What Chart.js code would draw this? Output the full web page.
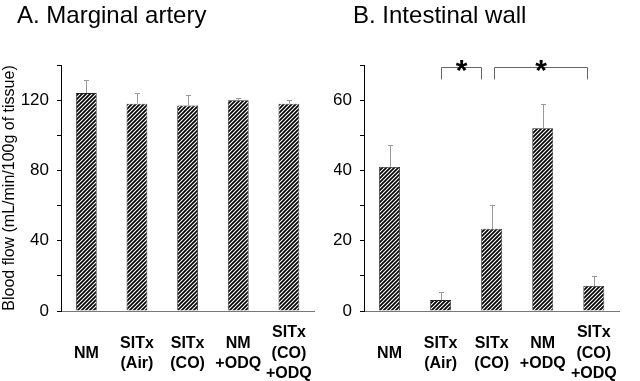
<!DOCTYPE html>
<html lang="en">
<head>
    <meta charset="UTF-8">
    <title>Blood flow</title>
    <script src="https://cdn.jsdelivr.net/npm/chart.js"></script>
    <style>
        body { margin: 0; background: #fff; }
        #wrap { position: relative; width: 640px; height: 381px; overflow: hidden; font-family: "Liberation Sans", Arial, sans-serif; }
        .panel { position: absolute; top: 0; height: 381px; }
        #leftBox { left: 0; width: 334px; }
        #rightBox { left: 334px; width: 306px; }
        .ttl { position: absolute; top: 3px; font-size: 24px; line-height: 24px; color: #000; white-space: nowrap; }
    </style>
</head>
<body>
<div id="wrap">
    <div class="panel" id="leftBox"><canvas id="chartA"></canvas></div>
    <div class="panel" id="rightBox"><canvas id="chartB"></canvas></div>
    <div class="ttl" style="left:17px">A. Marginal artery</div>
    <div class="ttl" style="left:353px">B. Intestinal wall</div>
</div>
<script>
    // 資料
    var groups = [['NM'], ['SITx', '(Air)'], ['SITx', '(CO)'], ['NM', '+ODQ'], ['SITx', '(CO)', '+ODQ']];

    var arteryFlow = [124, 118, 117, 120, 118];
    var arteryErr = [7.5, 6, 6, 1, 2];

    var wallFlow = [41, 3.1, 23.4, 52, 7.1];
    var wallErr = [6.2, 2.3, 6.9, 6.9, 2.9];

    var arteryTicks = [0, 40, 80, 120];
    var wallTicks = [0, 20, 40, 60];

    // significance brackets (category positions)
    var bracketFrom = [1, 2.04];
    var bracketTo = [1.79, 3.87];
    var bracketLevel = 69.5;
    var bracketText = ['*', '*'];

    // hatch pattern
    function makeHatch() {
        var c = document.createElement('canvas');
        c.width = 4; c.height = 4;
        var g = c.getContext('2d');
        g.fillStyle = '#fff';
        g.fillRect(0, 0, 4, 4);
        g.strokeStyle = '#000';
        g.lineWidth = 1.7;
        g.beginPath();
        g.moveTo(-1, 5); g.lineTo(5, -1);
        g.moveTo(-1, 1); g.lineTo(1, -1);
        g.moveTo(3, 5); g.lineTo(5, 3);
        g.stroke();
        return g.createPattern(c, 'repeat');
    }

    var errorBars = {
        id: 'errorBars',
        afterDatasetsDraw: function(chart, args, opts) {
            var ctx = chart.ctx;
            var meta = chart.getDatasetMeta(0);
            var y = chart.scales.y;
            var vals = chart.data.datasets[0].data;
            ctx.save();
            ctx.strokeStyle = '#999';
            ctx.lineWidth = 1;
            for (var i = 0; i < vals.length; i++) {
                var x = Math.round(meta.data[i].x) + 0.5;
                var y0 = y.getPixelForValue(vals[i]);
                var y1 = Math.round(y.getPixelForValue(vals[i] + opts.err[i])) + 0.5;
                ctx.beginPath();
                ctx.moveTo(x, y0);
                ctx.lineTo(x, y1);
                ctx.moveTo(x - 2.5, y1);
                ctx.lineTo(x + 2.5, y1);
                ctx.stroke();
            }
            ctx.restore();
        }
    };

    var brackets = {
        id: 'brackets',
        afterDraw: function(chart, args, opts) {
            if (!opts.show) return;
            var ctx = chart.ctx;
            var xs = chart.scales.x, ys = chart.scales.y;
            ctx.save();
            ctx.strokeStyle = '#666';
            ctx.lineWidth = 1;
            for (var i = 0; i < bracketFrom.length; i++) {
                var a = Math.round(xs.getPixelForValue(bracketFrom[i])) + 0.5;
                var b = Math.round(xs.getPixelForValue(bracketTo[i])) + 0.5;
                var top = Math.round(ys.getPixelForValue(bracketLevel)) + 0.5;
                ctx.beginPath();
                ctx.moveTo(a, top + 12);
                ctx.lineTo(a, top);
                ctx.lineTo(b, top);
                ctx.lineTo(b, top + 12);
                ctx.stroke();
                ctx.fillStyle = '#000';
                ctx.font = 'bold 30px "Liberation Sans", Arial, sans-serif';
                ctx.textAlign = 'center';
                ctx.textBaseline = 'alphabetic';
                ctx.fillText(bracketText[i], (a + b) / 2, top + 12);
            }
            ctx.restore();
        }
    };

    function makeChart(id, data, err, max, step, labelTicks, yTitle, padL, padR, yWidth) {
        var ctx = document.getElementById(id).getContext('2d');
        return new Chart(ctx, {
            type: 'bar',
            data: {
                labels: groups,
                datasets: [{
                    data: data,
                    backgroundColor: makeHatch(),
                    borderColor: '#222',
                    borderWidth: 0.8,
                    categoryPercentage: 1,
                    barPercentage: 0.41
                }]
            },
            options: {
                responsive: true,
                maintainAspectRatio: false,
                animation: false,
                layout: { padding: { top: 65, left: padL, right: padR, bottom: 0 } },
                plugins: {
                    legend: { display: false },
                    tooltip: { enabled: false },
                    errorBars: { err: err },
                    brackets: { show: !yTitle }
                },
                scales: {
                    x: {
                        grid: { display: false, drawTicks: false },
                        border: { color: '#777', width: 1 },
                        ticks: {
                            color: '#000',
                            padding: 22,
                            crossAlign: 'center',
                            maxRotation: 0,
                            autoSkip: false,
                            font: { family: '"Liberation Sans", Arial, sans-serif', size: 16, weight: 'bold', lineHeight: 1.28 }
                        },
                        afterFit: function(s) { s.height = 70; }
                    },
                    y: {
                        min: 0,
                        max: max,
                        grid: { drawOnChartArea: false, drawTicks: true, tickLength: 4, color: '#000' },
                        border: { color: '#000', width: 1 },
                        ticks: {
                            stepSize: step,
                            color: '#000',
                            padding: 8,
                            font: { family: '"Liberation Sans", Arial, sans-serif', size: 17 },
                            callback: function(v) { return labelTicks.indexOf(v) >= 0 ? v : ''; }
                        },
                        title: {
                            display: !!yTitle,
                            text: yTitle,
                            color: '#000',
                            padding: 0,
                            font: { family: '"Liberation Sans", Arial, sans-serif', size: 16 }
                        },
                        afterFit: function(s) { s.width = yWidth; }
                    }
                }
            },
            plugins: [errorBars, brackets]
        });
    }

    makeChart('chartA', arteryFlow, arteryErr, 140, 20, arteryTicks, 'Blood flow (mL/min/100g of tissue)', 0, 2, 61);
    makeChart('chartB', wallFlow, wallErr, 70, 10, wallTicks, '', 0, 13, 30);
</script>
</body>
</html>
